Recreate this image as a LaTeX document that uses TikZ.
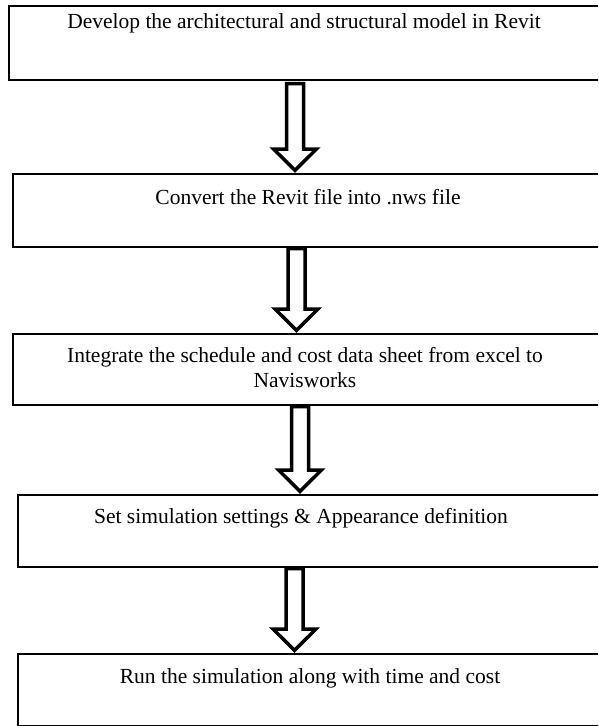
\documentclass[tikz,border=0pt]{standalone}
\usepackage{fontspec}
\setmainfont{Liberation Serif}
\usetikzlibrary{calc}
\tikzset{
  box/.style={draw=black, line width=1.6pt, anchor=north west, minimum width=620pt, inner sep=0pt, fill=none},
  txt/.style={font=\fontsize{21.5}{25}\selectfont, align=center, inner sep=0pt, anchor=center},
  hollow/.style={draw=black, line width=3.5pt, line join=miter, fill=white},
}
\newcommand{\blockarr}[2]{%
  \draw[hollow] let \p1=(#1), \p2=(#2) in
    (\x1-8.5pt,\y1) -- (\x1+8.5pt,\y1) -- (\x1+8.5pt,\y2+24pt) -- (\x1+21.5pt,\y2+24pt)
    -- (\x1,\y2+2.6pt) -- (\x1-21.5pt,\y2+24pt) -- (\x1-8.5pt,\y2+24pt) -- cycle;}
\begin{document}
\begin{tikzpicture}[x=1pt,y=-1pt]
\clip (0,0) rectangle (598,726);
\fill[white] (0,0) rectangle (598,726);
\node[box, minimum height=74pt] (b1) at (8,5) {};
\node[box, minimum height=73pt] (b2) at (12,173) {};
\node[box, minimum height=71pt] (b3) at (12,333) {};
\node[box, minimum height=72pt] (b4) at (17,494) {};
\node[box, minimum height=72pt] (b5) at (17,653) {};
\node[txt] (t1) at (304,23) {Develop the architectural and structural model in Revit};
\node[txt] (t2) at (308,197) {Convert the Revit file into .nws file};
\node[txt] (t3) at (305,368) {Integrate the schedule and cost data sheet from excel to\\Navisworks};
\node[txt] (t4) at (301,518) {Set simulation settings \& Appearance definition};
\node[txt] (t5) at (310,678) {Run the simulation along with time and cost};
\coordinate (s1) at (b1.south west -| 295,0);
\coordinate (e1) at (b2.north west -| 295,0);
\coordinate (s2) at (b2.south west -| 296.5,0);
\coordinate (e2) at (b3.north west -| 296.5,0);
\coordinate (s3) at (b3.south west -| 300,0);
\coordinate (e3) at (b4.north west -| 300,0);
\coordinate (s4) at (b4.south west -| 294.5,0);
\coordinate (e4) at (b5.north west -| 294.5,0);
\blockarr{$(s1)+(0,3)$}{e1}
\blockarr{$(s2)+(0,1)$}{e2}
\blockarr{$(s3)+(0,1)$}{e3}
\blockarr{$(s4)+(0,1)$}{e4}
\end{tikzpicture}
\end{document}
